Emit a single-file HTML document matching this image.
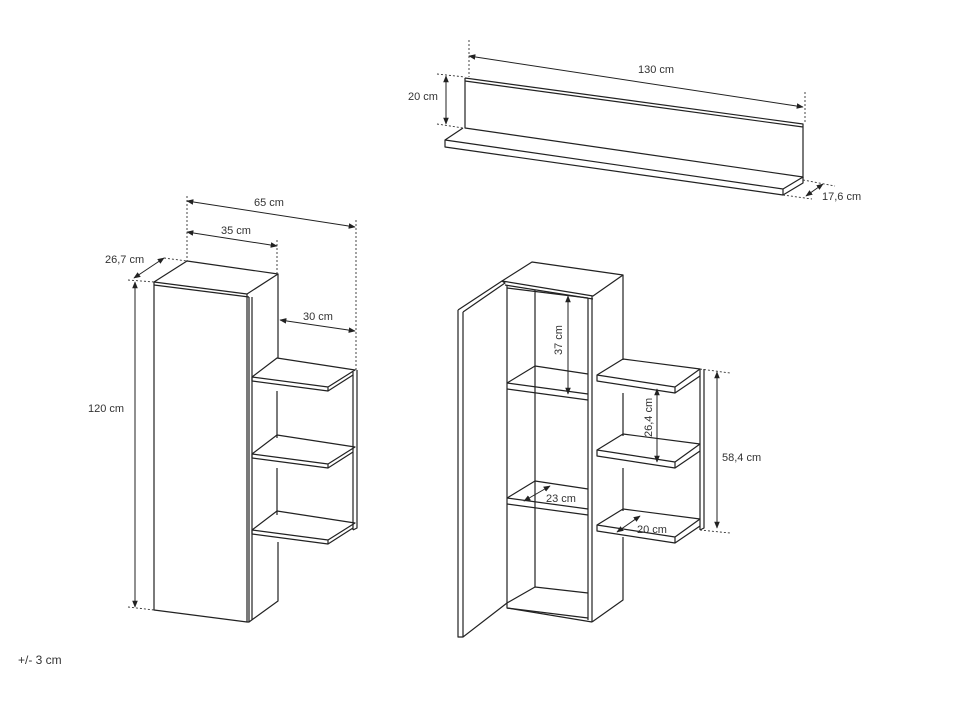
<!DOCTYPE html>
<html><head><meta charset="utf-8"><style>
html,body{margin:0;padding:0;background:#fff;}
svg{display:block;}
text{font-family:"Liberation Sans",sans-serif;font-size:11px;fill:#333;}
</style></head><body>
<svg width="953" height="704" viewBox="0 0 953 704" xmlns="http://www.w3.org/2000/svg">
<defs>
<marker id="a" viewBox="0 0 10 10" refX="9" refY="5" markerWidth="7" markerHeight="7" orient="auto-start-reverse"><path d="M0,1 L10,5 L0,9 z" fill="#222"/></marker>
</defs>
<g fill="none" stroke="#222" stroke-width="1.2" stroke-linejoin="round">
<!-- TOP SHELF -->
<path d="M465,78 L803,124 L803,178 M465,78 L465,128 L803,177 M465,81 L803,127"/>
<path d="M463,128 L445,140 L783,189 L803,177 M445,140 L445,147 L783,195 L803,183 L803,177 M783,189 L783,195"/>
<!-- LEFT UNIT -->
<path d="M154,282 L187,261 L278,274 L247,294 Z M154,285 L249,297"/>
<path d="M154,282 L154,610 L247,622 L247,294 M249,297 L249,622 L247,622 M249,622 L278,601 L278,542 M278,274 L278,358"/>
<path d="M252,297 L252,620"/>
<!-- left shelves -->
<g id="ls">
<path d="M252,377 L277,358 L355,370 L328,387 Z M252,377 L252,381 L328,391 L353,375 M328,387 L328,391"/>
</g>
<use href="#ls" transform="translate(0,77)"/>
<use href="#ls" transform="translate(0,153)"/>
<path d="M277,391 L277,438 M277,468 L277,515 M353,372 L353,530 M357,370 L357,528 L353,530"/>
<!-- RIGHT UNIT -->
<path d="M458,310 L502,281 L505,283 L463,312 M458,310 L458,637 L463,637 L463,312 M463,637 L507,603"/>
<path d="M502,281 L532,262 L623,275 L593,296 Z M505,285 L593,299"/>
<path d="M507,285 L507,608 L592,622 M592,296 L592,622 M588,298 L588,620 M535,290 L535,587 M507,288 L588,298"/>
<path d="M623,275 L623,360 M623,537 L623,600 L592,622"/>
<path d="M507,603 L535,587 L588,593 M507,608 L588,618"/>
<g id="ri">
<path d="M507,383 L535,366 L588,374 M507,383 L588,394 M507,389 L588,400"/>
</g>
<use href="#ri" transform="translate(0,115)"/>
<g id="rs">
<path d="M597,375 L623,359 L700,369 L675,387 Z M597,375 L597,381 L675,393 L700,376 M675,387 L675,393"/>
</g>
<use href="#rs" transform="translate(0,75)"/>
<use href="#rs" transform="translate(0,150)"/>
<path d="M623,393 L623,436 M623,468 L623,511 M700,369 L700,530 M704,369 L704,528 L700,530"/>
</g>
<!-- dashed guides -->
<g fill="none" stroke="#333" stroke-width="0.9" stroke-dasharray="2,2">
<path d="M469,40 L469,77 M805,92 L805,124 M437,74 L465,77 M437,124 L463,128 M783,195 L812,199 M803,180 L835,186"/>
<path d="M187,196 L187,261 M356,220 L356,370 M277,240 L277,274 M164,258 L187,261 M128,280 L154,282 M128,607 L154,610"/>
<path d="M700,369 L730,373 M700,530 L730,533"/>
</g>
<!-- dimension arrows -->
<g fill="none" stroke="#222" stroke-width="1" marker-start="url(#a)" marker-end="url(#a)">
<path d="M469,56 L803,107"/>
<path d="M446,76 L446,124"/>
<path d="M806,196 L823,184"/>
<path d="M187,201 L355,227"/>
<path d="M187,232 L277,246"/>
<path d="M280,320 L355,331"/>
<path d="M134,278 L164,258"/>
<path d="M135,282 L135,607"/>
<path d="M568,296 L568,394"/>
<path d="M657,389 L657,462"/>
<path d="M717,372 L717,528"/>
<path d="M524,501 L550,486"/>
<path d="M617,532 L640,516"/>
</g>
<text x="638" y="73">130 cm</text>
<text x="408" y="100">20 cm</text>
<text x="822" y="200">17,6 cm</text>
<text x="254" y="206">65 cm</text>
<text x="221" y="234">35 cm</text>
<text x="303" y="320">30 cm</text>
<text x="105" y="263">26,7 cm</text>
<text x="88" y="412">120 cm</text>
<text x="722" y="461">58,4 cm</text>
<text x="546" y="502">23 cm</text>
<text x="637" y="533">20 cm</text>
<text transform="translate(562,355) rotate(-90)">37 cm</text>
<text transform="translate(652,437) rotate(-90)">26,4 cm</text>
<text x="18" y="664" style="font-size:12px">+/- 3 cm</text>
</svg>
</body></html>
